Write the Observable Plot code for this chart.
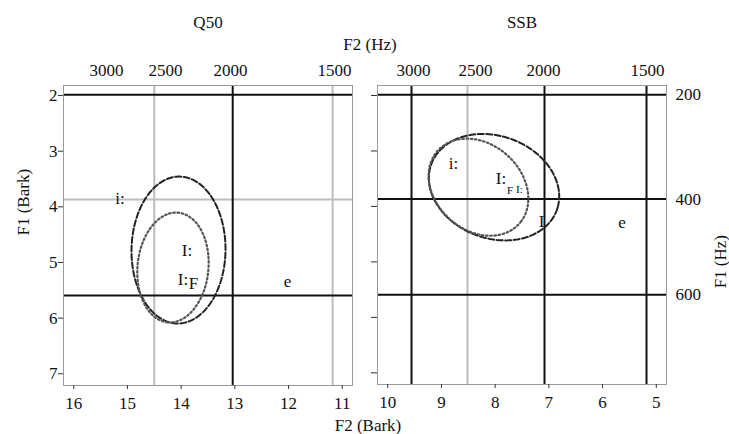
<!DOCTYPE html>
<html><head><meta charset="utf-8">
<script src="https://cdn.jsdelivr.net/npm/d3@7"></script>
<script src="https://cdn.jsdelivr.net/npm/@observablehq/plot@0.6"></script>
<style>
body{margin:0;background:#fff;}
#wrap{position:relative;width:729px;height:434px;font-family:"Times New Roman","Liberation Serif","DejaVu Serif",serif;color:#111;background:#fff;}
#wrap svg{position:absolute;top:0;}
#wrap svg text{font-family:"Times New Roman","Liberation Serif","DejaVu Serif",serif !important;}
.lab{position:absolute;font-size:17px;line-height:1;white-space:nowrap;transform:translateX(-50%);}
</style></head><body>
<div id="wrap"></div>
<script>
// ---------- data ----------
const panelTitles = ["Q50", "SSB"];
const q50BarkTicks = [16, 15, 14, 13, 12, 11];
const ssbBarkTicks = [10, 9, 8, 7, 6, 5];
const f1BarkTicks = [2, 3, 4, 5, 6, 7];

const f2HzLabels = ["3000", "2500", "2000", "1500"];
const q50F2HzLabelBark = [15.39, 14.29, 13.08, 11.145];
const ssbF2HzLabelBark = [9.52, 8.366, 7.10, 5.164];

// reference lines (F2, Bark)
const q50F2BlackLines = [13.04];          // 2000 Hz
const q50F2GrayLines = [14.50, 11.18];    // 2500, 1500 Hz
const ssbF2BlackLines = [9.557, 7.081, 5.182]; // 3000, 2000, 1500 Hz
const ssbF2GrayLines = [8.515];           // 2500 Hz

// F1 reference lines (Bark) for 200 / 400 / 600 Hz
const f1HzLabels = ["200", "400", "600"];
const f1HzBark = [1.987, 3.868, 5.593];
const q50F1BlackLines = [1.987, 5.593];
const q50F1GrayLines = [3.868];
const ssbF1BlackLines = [1.987, 3.868, 5.593];

// vowel labels (F2 Bark, F1 Bark)
const q50Vowels = ["i:", "I:", "I:", "F", "e"];
const q50VowelF2 = [15.138, 13.891, 13.965, 13.77, 12.02];
const q50VowelF1 = [3.859, 4.785, 5.306, 5.38, 5.342];
const ssbVowels = ["i:", "I:", "I", "e"];
const ssbVowelF2 = [8.775, 7.891, 7.137, 5.638];
const ssbVowelF1 = [3.230, 3.500, 4.264, 4.290];
const ssbMinorLabels = ["F", "I:"];
const ssbMinorF2 = [7.723, 7.547];
const ssbMinorF1 = [3.707, 3.689];

// ellipses: centre F2, centre F1, semi-major, semi-minor (Bark), tilt (deg, screen)
const ellipseNames = ["q50Dashed", "q50Dotted", "ssbDashed", "ssbDotted"];
const ellipseF2 = [14.049, 14.152, 8.021, 8.310];
const ellipseF1 = [4.776, 5.090, 3.653, 3.653];
const ellipseMajor = [1.32, 0.99, 1.24, 1.005];
const ellipseMinor = [0.875, 0.66, 0.925, 0.786];
const ellipseTilt = [91, 96, 18, 38];

// ---------- helpers ----------
function ellipsePts(i) {
  const pts = [];
  const phi = ellipseTilt[i] * Math.PI / 180;
  for (let k = 0; k <= 360; k += 2) {
    const t = k * Math.PI / 180;
    const dx = ellipseMajor[i] * Math.cos(t) * Math.cos(phi) - ellipseMinor[i] * Math.sin(t) * Math.sin(phi);
    const dy = ellipseMajor[i] * Math.cos(t) * Math.sin(phi) + ellipseMinor[i] * Math.sin(t) * Math.cos(phi);
    pts.push({f2: ellipseF2[i] - dx, f1: ellipseF1[i] + dy});
  }
  return pts;
}
const FONT = '"Times New Roman","Liberation Serif","DejaVu Serif",serif';
const BLACK = "#111", GRAY = "#bdbdbd";
const dashedStyle = {stroke: "#222", strokeWidth: 2, strokeDasharray: "6,2.5"};
const dottedStyle = {stroke: "#555", strokeWidth: 2.2, strokeDasharray: "1.6,2.6"};
const fmt = d => String(d);

// ---------- left panel ----------
const left = Plot.plot({
  width: 365, height: 434,
  marginLeft: 63, marginRight: 13, marginTop: 85, marginBottom: 49,
  x: {domain: [16.19, 10.81]},
  y: {domain: [1.82, 7.21], reverse: true},
  style: {fontFamily: FONT, fontSize: "17px", color: BLACK, background: "white", overflow: "visible"},
  marks: [
    Plot.ruleX(q50F2GrayLines, {stroke: GRAY, strokeWidth: 2}),
    Plot.ruleY(q50F1GrayLines, {stroke: GRAY, strokeWidth: 2}),
    Plot.ruleX(q50F2BlackLines, {stroke: BLACK, strokeWidth: 2}),
    Plot.ruleY(q50F1BlackLines, {stroke: BLACK, strokeWidth: 2}),
    Plot.frame({stroke: "#9a9a9a"}),
    Plot.line(ellipsePts(0), {x: "f2", y: "f1", ...dashedStyle}),
    Plot.line(ellipsePts(1), {x: "f2", y: "f1", ...dottedStyle}),
    Plot.text(q50Vowels, {x: (d, i) => q50VowelF2[i], y: (d, i) => q50VowelF1[i], text: d => d, fontSize: 17, fill: BLACK}),
    Plot.axisX({ticks: q50BarkTicks, tickFormat: fmt, anchor: "bottom", tickSize: 4, tickPadding: 7, label: null, fontSize: 17, stroke: "#333"}),
    Plot.axisY({ticks: f1BarkTicks, tickFormat: fmt, anchor: "left", tickSize: 5, tickPadding: 1, label: null, fontSize: 17, stroke: "#333"}),
    Plot.text(f2HzLabels, {x: (d, i) => q50F2HzLabelBark[i], text: d => d, frameAnchor: "top", dy: -10, lineAnchor: "bottom", fontSize: 17, fill: BLACK}),
    Plot.text([panelTitles[0]], {text: d => d, frameAnchor: "top", dy: -58, lineAnchor: "bottom", fontSize: 17, fill: BLACK}),
    Plot.text(["F1 (Bark)"], {text: d => d, frameAnchor: "left", dx: -40, rotate: -90, fontSize: 17, fill: BLACK})
  ]
});

// ---------- right panel ----------
const right = Plot.plot({
  width: 364, height: 434,
  marginLeft: 12, marginRight: 63, marginTop: 85, marginBottom: 50,
  x: {domain: [10.19, 4.81]},
  y: {domain: [1.82, 7.21], reverse: true},
  style: {fontFamily: FONT, fontSize: "17px", color: BLACK, background: "white", overflow: "visible"},
  marks: [
    Plot.ruleX(ssbF2GrayLines, {stroke: GRAY, strokeWidth: 2}),
    Plot.ruleX(ssbF2BlackLines, {stroke: BLACK, strokeWidth: 2}),
    Plot.ruleY(ssbF1BlackLines, {stroke: BLACK, strokeWidth: 2}),
    Plot.frame({stroke: "#9a9a9a"}),
    Plot.line(ellipsePts(2), {x: "f2", y: "f1", ...dashedStyle}),
    Plot.line(ellipsePts(3), {x: "f2", y: "f1", ...dottedStyle}),
    Plot.text(ssbVowels, {x: (d, i) => ssbVowelF2[i], y: (d, i) => ssbVowelF1[i], text: d => d, fontSize: 17, fill: BLACK}),
    Plot.text(ssbMinorLabels, {x: (d, i) => ssbMinorF2[i], y: (d, i) => ssbMinorF1[i], text: d => d, fontSize: 11, fill: BLACK}),
    Plot.axisX({ticks: ssbBarkTicks, tickFormat: fmt, anchor: "bottom", tickSize: 4, tickPadding: 7, label: null, fontSize: 17, stroke: "#333"}),
    Plot.axisY({ticks: f1BarkTicks, anchor: "left", tickSize: 6, tickFormat: () => "", label: null, stroke: "#333"}),
    Plot.text(f2HzLabels, {x: (d, i) => ssbF2HzLabelBark[i], text: d => d, frameAnchor: "top", dy: -10, lineAnchor: "bottom", fontSize: 17, fill: BLACK}),
    Plot.text(f1HzLabels, {y: (d, i) => f1HzBark[i], text: d => d, frameAnchor: "right", dx: 9, textAnchor: "start", fontSize: 17, fill: BLACK}),
    Plot.text([panelTitles[1]], {text: d => d, frameAnchor: "top", dy: -58, lineAnchor: "bottom", fontSize: 17, fill: BLACK}),
    Plot.text(["F1 (Hz)"], {text: d => d, frameAnchor: "right", dx: 54, rotate: -90, fontSize: 17, fill: BLACK})
  ]
});

const wrap = document.getElementById("wrap");
left.style.left = "0px";
right.style.left = "365px";
wrap.appendChild(left);
wrap.appendChild(right);

const hz = document.createElement("div");
hz.className = "lab"; hz.textContent = "F2 (Hz)";
hz.style.left = "370px"; hz.style.top = "36px";
wrap.appendChild(hz);
const bk = document.createElement("div");
bk.className = "lab"; bk.textContent = "F2 (Bark)";
bk.style.left = "368px"; bk.style.top = "417px";
wrap.appendChild(bk);
</script>
</body></html>
